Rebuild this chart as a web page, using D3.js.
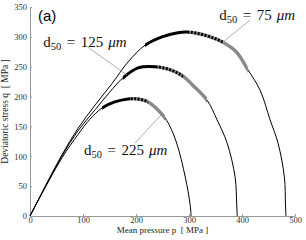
<!DOCTYPE html>
<html>
<head>
<meta charset="utf-8">
<script src="https://cdn.jsdelivr.net/npm/d3@7"></script>
<style>
  body { margin: 0; background: #fff; }
  svg { display: block; }
</style>
</head>
<body>
<svg id="vis"></svg>
<script>
// DATOS -------------------------------------------------------------------------------------------
const D50 = ["75", "125", "225"];

const P_75 = [0, 30, 60, 90, 123, 155, 185, 217, 249, 279, 298, 315, 340, 364, 389, 411, 434, 453, 468, 480, 482, 483];
const Q_75 = [0, 52, 102, 146, 186, 222, 258, 286, 300, 307, 308, 306, 300, 291, 275, 245, 211, 161, 122, 65, 20, 0];

const P_125 = [0, 30, 60, 90, 123, 150, 175, 204, 236, 264, 289, 307, 334, 353, 372, 387, 390, 391];
const Q_125 = [0, 51, 100, 142, 178, 207, 231, 248, 250, 245, 234, 219, 194, 161, 122, 65, 20, 0];

const P_225 = [0, 30, 60, 91, 113, 136, 160, 185, 204, 223, 241, 258, 276, 293, 302, 304];
const Q_225 = [0, 50, 97, 137, 162, 181, 191, 196, 196, 191, 178, 160, 124, 65, 20, 0];

// tramos gruesos (rango de p) por curva
const TRAMO_NEGRO = [[217, 298], [175, 241], [136, 189]];
const TRAMO_PUNTEADO = [[298, 364], [241, 289], [189, 223]];
const TRAMO_GRIS = [[364, 411], [289, 334], [223, 255]];

// etiquetas: posicion del texto y linea guia [p, q]
const ETIQUETA_POS = [[357, 328], [25, 283], [102, 102]];
const GUIA_DESDE = [[415, 328], [109, 283], [198, 122]];
const GUIA_HASTA = [[362, 290], [183, 236], [247, 169]];

const TICKS_X = [0, 100, 200, 300, 400, 500];
const TICKS_Y = [0, 50, 100, 150, 200, 250, 300, 350];

// CONSTANTES --------------------------------------------------------------------------------------
const WIDTH = 306;
const HEIGHT = 240;
const MARGIN = { top: 7, bottom: 24, left: 30, right: 11 };
const SERIF = "'Liberation Serif', 'Times New Roman', serif";

const svg = d3.select("#vis").attr("width", WIDTH).attr("height", HEIGHT);

const escalaX = d3.scaleLinear().domain([0, 500]).range([MARGIN.left, WIDTH - MARGIN.right]);
const escalaY = d3.scaleLinear().domain([0, 350]).range([HEIGHT - MARGIN.bottom, MARGIN.top]);

const curvas = [
  d3.zip(P_75, Q_75),
  d3.zip(P_125, Q_125),
  d3.zip(P_225, Q_225),
];

const linea = d3
  .line()
  .x((d) => escalaX(d[0]))
  .y((d) => escalaY(d[1]))
  .curve(d3.curveCatmullRom.alpha(0.5));

// EJES --------------------------------------------------------------------------------------------
const ejeX = svg
  .append("g")
  .attr("transform", `translate(0, ${escalaY(0)})`)
  .call(d3.axisBottom(escalaX).tickValues(TICKS_X).tickSize(-2).tickSizeOuter(0).tickPadding(1));
const ejeY = svg
  .append("g")
  .attr("transform", `translate(${escalaX(0)}, 0)`)
  .call(d3.axisLeft(escalaY).tickValues(TICKS_Y).tickSize(-2).tickSizeOuter(0).tickPadding(3));

[ejeX, ejeY].forEach((eje) => {
  eje.select(".domain").attr("stroke", "#999");
  eje.selectAll(".tick line").attr("stroke", "#999");
  eje
    .selectAll(".tick text")
    .attr("fill", "#333")
    .style("font-family", SERIF)
    .style("font-size", "8.5px");
});

svg
  .append("text")
  .attr("x", (escalaX(0) + escalaX(500)) / 2)
  .attr("y", 233)
  .attr("text-anchor", "middle")
  .style("font-family", SERIF)
  .style("font-size", "9px")
  .style("white-space", "pre")
  .attr("fill", "#222")
  .text("Mean pressure p  [ MPa ]");

svg
  .append("text")
  .attr("transform", `translate(8, ${(escalaY(0) + escalaY(350)) / 2}) rotate(-90)`)
  .attr("text-anchor", "middle")
  .style("font-family", SERIF)
  .style("font-size", "9.5px")
  .style("white-space", "pre")
  .attr("fill", "#222")
  .text("Deviatoric stress q  [ MPa ]");

svg
  .append("text")
  .attr("x", 38)
  .attr("y", 21)
  .style("font-family", "'Liberation Sans', Arial, sans-serif")
  .style("font-size", "15px")
  .text("(a)");

// CLIPS POR TRAMO ---------------------------------------------------------------------------------
const defs = svg.append("defs");
function clip(id, rango) {
  defs
    .append("clipPath")
    .attr("id", id)
    .append("rect")
    .attr("x", escalaX(rango[0]))
    .attr("y", 0)
    .attr("width", escalaX(rango[1]) - escalaX(rango[0]))
    .attr("height", HEIGHT);
  return `url(#${id})`;
}

// CURVAS ------------------------------------------------------------------------------------------
const contenedor = svg.append("g");

curvas.forEach((datos, i) => {
  contenedor
    .append("path")
    .attr("d", linea(datos))
    .attr("fill", "none")
    .attr("stroke", "#000")
    .attr("stroke-width", 1);

  // gris (incluye debajo del punteado)
  contenedor
    .append("path")
    .attr("d", linea(datos))
    .attr("clip-path", clip(`gris${i}`, [TRAMO_PUNTEADO[i][0], TRAMO_GRIS[i][1]]))
    .attr("fill", "none")
    .attr("stroke", "#8a8a8a")
    .attr("stroke-width", 3.4);

  contenedor
    .append("path")
    .attr("d", linea(datos))
    .attr("clip-path", clip(`negro${i}`, TRAMO_NEGRO[i]))
    .attr("fill", "none")
    .attr("stroke", "#000")
    .attr("stroke-width", 3);

  contenedor
    .append("path")
    .attr("d", linea(datos))
    .attr("clip-path", clip(`punto${i}`, TRAMO_PUNTEADO[i]))
    .attr("fill", "none")
    .attr("stroke", "#000")
    .attr("stroke-width", 3)
    .attr("stroke-dasharray", "2,1.5");
});

// ETIQUETAS ---------------------------------------------------------------------------------------
D50.forEach((d, i) => {
  svg
    .append("line")
    .attr("x1", escalaX(GUIA_DESDE[i][0]))
    .attr("y1", escalaY(GUIA_DESDE[i][1]))
    .attr("x2", escalaX(GUIA_HASTA[i][0]))
    .attr("y2", escalaY(GUIA_HASTA[i][1]))
    .attr("stroke", "#999")
    .attr("stroke-width", 0.8);

  const t = svg
    .append("text")
    .attr("x", escalaX(ETIQUETA_POS[i][0]))
    .attr("y", escalaY(ETIQUETA_POS[i][1]))
    .style("font-family", SERIF)
    .style("font-size", "15px")
    .attr("fill", "#111");
  t.append("tspan").text("d");
  t.append("tspan").attr("dy", 2.5).style("font-size", "10.5px").text("50");
  t.append("tspan").attr("dy", -2.5).attr("dx", 5.5).text("=");
  t.append("tspan").attr("dx", 5.5).text(d);
  t.append("tspan").attr("dx", 5).style("font-style", "italic").text("μm");
});
</script>
</body>
</html>
